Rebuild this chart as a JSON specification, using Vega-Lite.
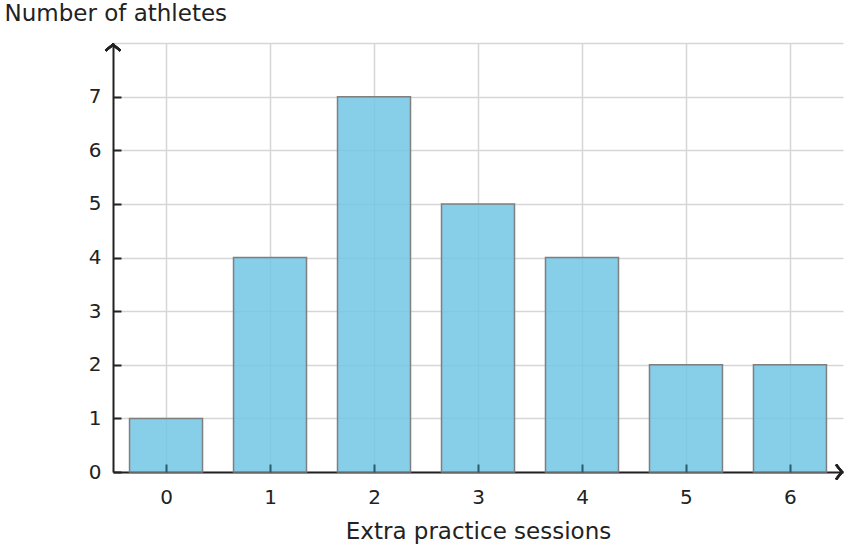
{
  "$schema": "https://vega.github.io/schema/vega-lite/v6.json",
  "width": 730,
  "height": 429,
  "autosize": {"type": "none"},
  "padding": {"left": 113, "top": 43, "right": 3, "bottom": 76},
  "background": "white",
  "config": {
    "view": {"stroke": null},
    "font": "DejaVu Sans",
    "axis": {"labelFont": "DejaVu Sans", "titleFont": "DejaVu Sans", "labelColor": "#222", "titleColor": "#222", "titleFontWeight": "normal"}
  },
  "resolve": {"axis": {"x": "independent", "y": "independent"}},
  "data": {"values": [
    {"sessions": 0, "athletes": 1},
    {"sessions": 1, "athletes": 4},
    {"sessions": 2, "athletes": 7},
    {"sessions": 3, "athletes": 5},
    {"sessions": 4, "athletes": 4},
    {"sessions": 5, "athletes": 2},
    {"sessions": 6, "athletes": 2}
  ]},
  "layer": [
    {
      "mark": {"type": "bar", "size": 73, "fill": "#72c5e4", "fillOpacity": 0.85, "strokeWidth": 0},
      "encoding": {
        "x": {"field": "sessions", "type": "quantitative", "scale": {"domain": [-0.51, 6.51], "nice": false, "zero": false, "padding": 0},
          "axis": {"values": [0,1,2,3,4,5,6], "format": "d", "title": "Extra practice sessions", "titleFontSize": 23, "titlePadding": 13,
            "labelFontSize": 20, "labelPadding": 15, "ticks": false, "zindex": 0,
            "domainColor": "#222", "domainWidth": 2, "gridColor": "#d6d6d6", "gridWidth": 1.5}},
        "y": {"field": "athletes", "type": "quantitative", "scale": {"domain": [0, 8], "nice": false, "padding": 0},
          "axis": {"values": [0,1,2,3,4,5,6,7,8], "format": "d", "labelExpr": "datum.value > 7 ? '' : datum.label",
            "title": "Number of athletes", "titleAngle": 0, "titleAlign": "left", "titleBaseline": "alphabetic",
            "titleX": -109, "titleY": -23, "titleFontSize": 23, "zindex": 0,
            "labelFontSize": 20, "labelPadding": 12, "ticks": false,
            "domainColor": "#222", "domainWidth": 2, "gridColor": "#d6d6d6", "gridWidth": 1.5}}
      }
    },
    {
      "mark": {"type": "bar", "size": 73, "fill": null, "stroke": "#7f7f7f", "strokeWidth": 1.5},
      "encoding": {
        "x": {"field": "sessions", "type": "quantitative",
          "axis": {"values": [0,1,2,3,4,5,6], "orient": "bottom", "offset": -8, "tickSize": 8, "tickWidth": 2, "tickColor": "#2a5a6c", "labels": false, "domain": false, "grid": false, "title": null, "zindex": 1}},
        "y": {"field": "athletes", "type": "quantitative",
          "axis": {"values": [0,1,2,3,4,5,6,7], "orient": "left", "offset": -8, "tickSize": 8, "tickWidth": 2, "tickColor": "#222", "labels": false, "domain": false, "grid": false, "title": null, "zindex": 1}}
      }
    },
    {
      "mark": {"type": "point", "shape": "M-1,0.8L0,0L1,0.8", "filled": false, "stroke": "#222", "strokeWidth": 2.2, "size": 220, "opacity": 1, "clip": false},
      "encoding": {
        "x": {"datum": -0.51, "type": "quantitative", "axis": null},
        "y": {"datum": 7.97, "type": "quantitative", "axis": null}
      }
    },
    {
      "mark": {"type": "point", "shape": "M-0.8,-1L0,0L-0.8,1", "filled": false, "stroke": "#222", "strokeWidth": 2.2, "size": 220, "opacity": 1, "clip": false},
      "encoding": {
        "x": {"datum": 6.5, "type": "quantitative", "axis": null},
        "y": {"datum": 0, "type": "quantitative", "axis": null}
      }
    }
  ]
}
